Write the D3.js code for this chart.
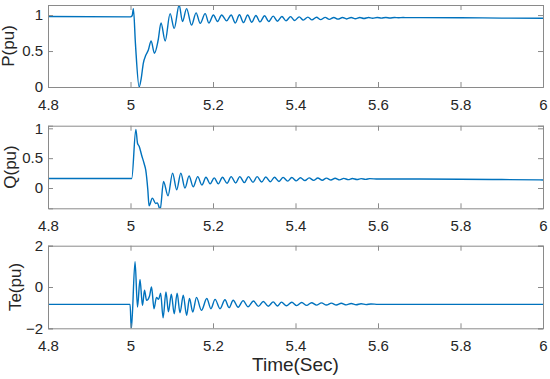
<!DOCTYPE html>
<html>
<head>
<meta charset="utf-8">
<script src="https://cdn.jsdelivr.net/npm/d3@7"></script>
<style>
  body { margin: 0; background: #fff; }
  text { font-family: "Liberation Sans", Arial, sans-serif; fill: #262626; }
</style>
</head>
<body>
<div id="chart"></div>
<script>
// generator active power P(pu)
var pTime = [4.8, 5.0, 5.004, 5.007, 5.012, 5.021, 5.026, 5.031, 5.037, 5.043, 5.050, 5.058, 5.067, 5.074, 5.084, 5.096, 5.106, 5.118, 5.126, 5.136, 5.148, 5.159, 5.169, 5.181, 5.190, 5.201, 5.211, 5.221, 5.233, 5.244,
  5.254, 5.264, 5.274, 5.284, 5.294, 5.304, 5.314, 5.325, 5.335, 5.346, 5.356, 5.367, 5.377, 5.388, 5.398, 5.409, 5.419, 5.430, 5.440, 5.451, 5.461, 5.472, 5.482, 5.493, 5.503, 5.514, 5.524, 5.535, 5.545, 5.556, 5.566, 5.577, 5.587, 5.598, 5.608, 5.619, 5.629, 5.640, 5.650, 5.661, 5.671, 5.700, 5.800, 5.900, 6.0];
var pVal = [0.98, 0.975, 0.99, 1.09, 0.6, 0.0, 0.12, 0.33, 0.44, 0.51, 0.64, 0.47, 0.65, 0.89, 0.64, 1.02, 0.815, 1.14, 0.91, 1.09, 0.86, 1.03, 0.885, 1.02, 0.89, 1.0, 0.91, 1.0, 0.92, 1.0,
  0.89, 1.005, 0.895, 1.0, 0.90, 0.995, 0.905, 0.99, 0.91, 0.985, 0.915, 0.98, 0.92, 0.978, 0.925, 0.975, 0.93, 0.972, 0.933, 0.97, 0.937, 0.968, 0.94, 0.967, 0.943, 0.966, 0.946, 0.966, 0.949, 0.966, 0.952, 0.966, 0.955, 0.966, 0.958, 0.966, 0.96, 0.966, 0.962, 0.966, 0.964, 0.965, 0.963, 0.958, 0.955];

// reactive power Q(pu)
var qTime = [4.8, 5.003, 5.013, 5.017, 5.021, 5.027, 5.033, 5.037, 5.042, 5.045, 5.053, 5.061, 5.065, 5.072, 5.080, 5.091, 5.102, 5.112, 5.122, 5.132, 5.142, 5.152, 5.163, 5.173, 5.183, 5.193, 5.203,
  5.213, 5.223, 5.234, 5.244, 5.255, 5.265, 5.276, 5.286, 5.297, 5.307, 5.318, 5.328, 5.339, 5.349, 5.360, 5.370, 5.381, 5.391, 5.402, 5.412, 5.423, 5.433, 5.444, 5.454, 5.465, 5.475, 5.486, 5.496, 5.507, 5.517, 5.528, 5.538, 5.549, 5.559, 5.570, 5.580, 5.600, 5.700, 5.800, 5.900, 6.0];
var qVal = [0.16, 0.16, 0.98, 0.75, 0.70, 0.55, 0.41, 0.30, -0.03, -0.30, -0.17, -0.26, -0.25, -0.36, 0.11, -0.13, 0.25, -0.03, 0.25, 0.0, 0.20, 0.02, 0.19, 0.05, 0.18, 0.07, 0.17,
  0.07, 0.18, 0.08, 0.19, 0.085, 0.19, 0.09, 0.19, 0.095, 0.19, 0.10, 0.185, 0.105, 0.18, 0.11, 0.178, 0.115, 0.175, 0.12, 0.172, 0.125, 0.17, 0.128, 0.168, 0.131, 0.166, 0.134, 0.164, 0.137, 0.162, 0.14, 0.16, 0.142, 0.158, 0.144, 0.157, 0.15, 0.15, 0.148, 0.142, 0.135];

// electromagnetic torque Te(pu)
var teTime = [4.8, 4.999, 5.002, 5.011, 5.017, 5.023, 5.029, 5.034, 5.039, 5.046, 5.051, 5.057, 5.063, 5.068, 5.073, 5.079, 5.086, 5.092, 5.099, 5.106, 5.113, 5.120, 5.128, 5.136, 5.143, 5.151, 5.160, 5.172, 5.185, 5.195, 5.205, 5.217, 5.229, 5.239, 5.249, 5.261, 5.273, 5.285, 5.298, 5.310, 5.322, 5.334, 5.346, 5.356, 5.366, 5.378, 5.391, 5.403, 5.415, 5.427, 5.439, 5.451, 5.463, 5.475, 5.487, 5.499, 5.511, 5.523, 5.535, 5.547, 5.559, 5.571, 5.583, 5.600, 5.700, 5.800, 6.0];
var teVal = [-0.84, -0.84, -2.05, 1.22, -0.97, 0.36, -0.89, -0.16, -0.65, -0.45, 0.0, -1.05, -0.5, -0.6, -0.3, -1.49, -0.24, -1.2, -0.35, -1.3, -0.3, -1.25, -0.4, -1.37, -0.56, -1.21, -0.5, -1.13, -0.56, -1.05, -0.6, -1.05, -0.62, -1.0, -0.64, -0.98, -0.66, -0.96, -0.68, -0.94, -0.7, -0.93, -0.72, -0.92, -0.73, -0.91, -0.74, -0.9, -0.75, -0.89, -0.76, -0.88, -0.77, -0.875, -0.78, -0.87, -0.79, -0.865, -0.8, -0.86, -0.81, -0.855, -0.82, -0.84, -0.84, -0.84, -0.84];

var xTicks = [4.8, 5, 5.2, 5.4, 5.6, 5.8, 6];

var svgWidth = 550;
var svgHeight = 379;
var plotLeft = 48, plotRight = 543;

var panels = [
  { label: "P(pu)",  time: pTime,  vals: pVal,  domain: [0, 1.14],      ticks: [0, 0.5, 1], top: 5,     bottom: 87,    labelX: 14 },
  { label: "Q(pu)",  time: qTime,  vals: qVal,  domain: [-0.34, 1.044], ticks: [0, 0.5, 1], top: 125.7, bottom: 208.3, labelX: 16 },
  { label: "Te(pu)", time: teTime, vals: teVal, domain: [-2, 2],        ticks: [-2, 0, 2],  top: 245.7, bottom: 328.3, labelX: 21 }
];

var svg = d3.select("#chart")
    .append("svg")
    .attr("width", svgWidth)
    .attr("height", svgHeight);

var x = d3.scaleLinear().domain([4.8, 6]).range([plotLeft, plotRight]);

var axisColor = "#8a8a8a";

panels.forEach(function (p, i) {
    var y = d3.scaleLinear().domain(p.domain).range([p.bottom, p.top]);
    var g = svg.append("g");

    g.append("clipPath").attr("id", "clip" + i)
      .append("rect")
      .attr("x", plotLeft).attr("y", p.top)
      .attr("width", plotRight - plotLeft).attr("height", p.bottom - p.top);

    var data = p.time.map(function (t, k) { return [t, p.vals[k]]; });

    var line = d3.line()
        .x(d => x(d[0]))
        .y(d => y(d[1]))
        .curve(d3.curveMonotoneX);

    g.append("path")
      .datum(data)
      .attr("clip-path", "url(#clip" + i + ")")
      .attr("fill", "none")
      .attr("stroke", "#0072BD")
      .attr("stroke-width", 1.4)
      .attr("d", line);

    // axes, ticks pointing inward on all four sides
    var bottomAxis = d3.axisBottom(x).tickValues(xTicks).tickSize(-5).tickFormat(d3.format("~g")).tickPadding(12);
    var topAxis = d3.axisTop(x).tickValues(xTicks).tickSize(-5).tickFormat("");
    var leftAxis = d3.axisLeft(y).tickValues(p.ticks).tickSize(-5).tickFormat(d3.format("~g")).tickPadding(5);
    var rightAxis = d3.axisRight(y).tickValues(p.ticks).tickSize(-5).tickFormat("");

    var axes = [
      g.append("g").attr("transform", `translate(0, ${p.bottom})`).call(bottomAxis),
      g.append("g").attr("transform", `translate(0, ${p.top})`).call(topAxis),
      g.append("g").attr("transform", `translate(${plotLeft}, 0)`).call(leftAxis),
      g.append("g").attr("transform", `translate(${plotRight}, 0)`).call(rightAxis)
    ];
    axes.forEach(function (a) {
        a.select(".domain").attr("stroke", axisColor);
        a.selectAll(".tick line").attr("stroke", axisColor);
        a.selectAll(".tick text")
          .style("font-size", "15px")
          .attr("fill", "#262626");
    });

    g.append("text")
      .attr("transform", `translate(${p.labelX}, ${(p.top + p.bottom) / 2}) rotate(-90)`)
      .attr("text-anchor", "middle")
      .style("font-size", "17px")
      .text(p.label);
});

svg.append("text")
  .attr("x", (plotLeft + plotRight) / 2)
  .attr("y", 371)
  .attr("text-anchor", "middle")
  .style("font-size", "19px")
  .text("Time(Sec)");
</script>
</body>
</html>
